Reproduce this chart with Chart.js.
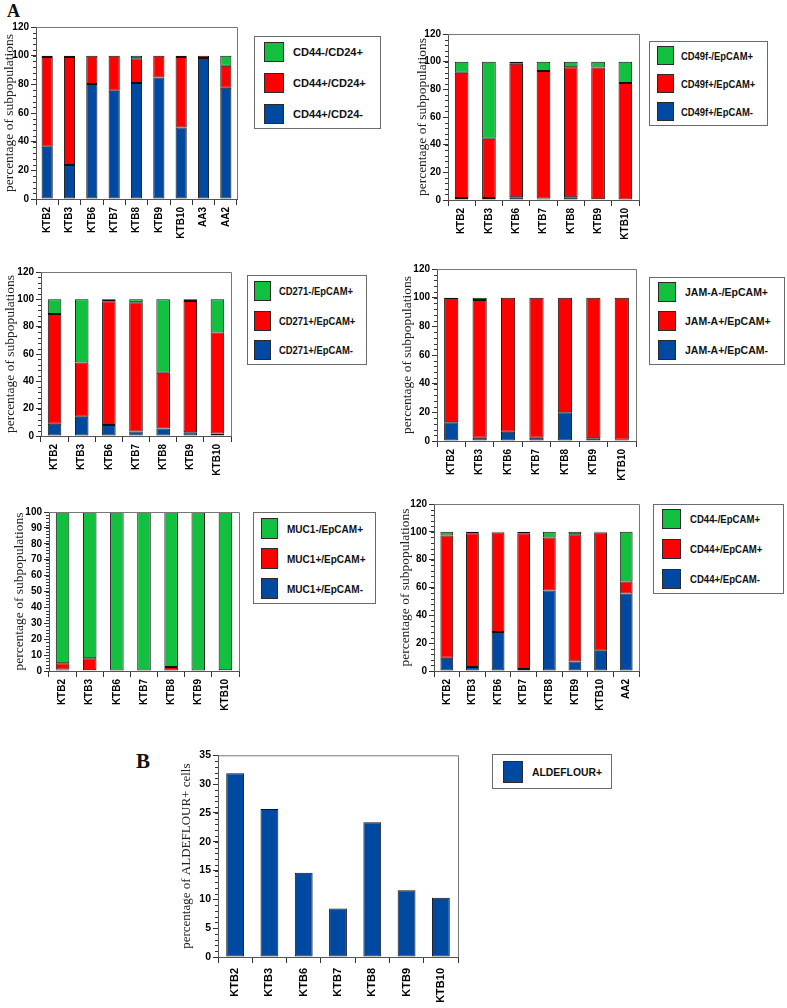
<!DOCTYPE html>
<html>
<head>
<meta charset="utf-8">
<script src="https://cdn.jsdelivr.net/npm/chart.js@4.4.1/dist/chart.umd.min.js"></script>
<style>
body { margin: 0; background: #fff; }
#page { position: relative; width: 787px; height: 1008px; overflow: hidden; background: #fff; }
canvas { position: absolute; }
.panel-letter { position: absolute; font: bold 18px "Liberation Serif", "Times New Roman", serif; line-height: 1; color: #111; }
.legend { position: absolute; border: 1px solid #6b6b6b; box-sizing: border-box; background: #fff; }
.sw { position: absolute; border: 1px solid #2a2a2a; box-sizing: border-box; }
.lt { position: absolute; font-family: "Liberation Sans", Arial, sans-serif; font-weight: bold; color: #111; white-space: nowrap; line-height: 1; transform-origin: 0 50%; }
</style>
</head>
<body>
<div id="page">
  <div class="panel-letter" style="left:7px;top:2px">A</div>
  <div class="panel-letter" style="left:136px;top:751px;font-size:21px">B</div>
</div>
<script>
// Categories
const ktbLines = ['KTB2', 'KTB3', 'KTB6', 'KTB7', 'KTB8', 'KTB9', 'KTB10'];
const cd24Lines = ['KTB2', 'KTB3', 'KTB6', 'KTB7', 'KTB8', 'KTB9', 'KTB10', 'AA3', 'AA2'];
const cd44Lines = ['KTB2', 'KTB3', 'KTB6', 'KTB7', 'KTB8', 'KTB9', 'KTB10', 'AA2'];

// CD44 / CD24
const cd24Names = ['CD44+/CD24-', 'CD44+/CD24+', 'CD44-/CD24+'];
const cd24Blue  = [36.5, 23.8, 80.2, 75.6, 81.0, 84.7, 49.8, 98.3, 77.6];
const cd24Red   = [62.5, 75.2, 19.8, 24.4, 17.2, 15.3, 49.2, 1.7, 15.4];
const cd24Green = [1.0, 1.0, 0, 0, 1.8, 0, 1.0, 0, 7.0];

// CD49f / EpCAM
const cd49fNames = ['CD49f+/EpCAM-', 'CD49f+/EpCAM+', 'CD49f-/EpCAM+'];
const cd49fBlue  = [1.5, 1.5, 2.0, 1.0, 2.0, 0.5, 0.3];
const cd49fRed   = [90.5, 42.8, 96.5, 92.2, 94.0, 95.3, 84.2];
const cd49fGreen = [8.0, 55.7, 1.5, 6.8, 4.0, 4.2, 15.5];

// CD271 / EpCAM
const cd271Names = ['CD271+/EpCAM-', 'CD271+/EpCAM+', 'CD271-/EpCAM+'];
const cd271Blue  = [9.0, 14.0, 8.0, 3.3, 5.5, 2.8, 1.8];
const cd271Red   = [80.3, 39.8, 90.6, 94.6, 40.8, 96.0, 73.9];
const cd271Green = [10.7, 46.2, 1.4, 2.1, 53.7, 1.2, 24.3];

// JAM-A / EpCAM
const jamNames = ['JAM-A+/EpCAM-', 'JAM-A+/EpCAM+', 'JAM-A-/EpCAM+'];
const jamBlue  = [13.0, 2.3, 6.5, 2.3, 20.0, 1.9, 0.9];
const jamRed   = [86.7, 96.0, 93.5, 97.7, 80.0, 98.1, 99.1];
const jamGreen = [0.3, 1.7, 0, 0, 0, 0, 0];

// MUC1 / EpCAM
const muc1Names = ['MUC1+/EpCAM-', 'MUC1+/EpCAM+', 'MUC1-/EpCAM+'];
const muc1Blue  = [1.0, 0.4, 0, 0, 0.3, 0, 0.3];
const muc1Red   = [3.8, 7.6, 0, 0, 2.2, 0, 0.2];
const muc1Green = [95.2, 92.0, 100, 100, 97.5, 100, 99.5];

// CD44 / EpCAM
const cd44Names = ['CD44+/EpCAM-', 'CD44+/EpCAM+', 'CD44-/EpCAM+'];
const cd44Blue  = [9.6, 2.9, 28.0, 1.4, 57.9, 6.9, 14.6, 55.7];
const cd44Red   = [87.7, 96.1, 71.5, 97.6, 38.0, 91.4, 84.9, 8.6];
const cd44Green = [2.7, 1.0, 0.5, 1.0, 4.1, 1.7, 0.5, 35.7];

// ALDEFLOUR
const aldeName = 'ALDEFLOUR+';
const aldeValues = [31.9, 25.7, 14.6, 8.4, 23.4, 11.6, 10.3];

const BLUE = '#0049a0';
const RED = '#ff0000';
const GREEN = '#12bf3e';
const SANS = '"Liberation Sans", Arial, sans-serif';
const SERIF = '"Liberation Serif", "Times New Roman", serif';

const page = document.getElementById('page');

// frame round the plot area + small ticks on the y axis
const axisExtras = {
    id: 'axisExtras',
    afterDraw(chart, args, opts) {
        const { ctx, chartArea: a, scales: { y } } = chart;
        ctx.save();
        ctx.strokeStyle = '#777';
        ctx.lineWidth = 1;
        ctx.beginPath();
        ctx.moveTo(a.left, a.top + 0.5);
        ctx.lineTo(a.right + 0.5, a.top + 0.5);
        ctx.lineTo(a.right + 0.5, a.bottom);
        ctx.stroke();
        if (opts.minorStep) {
            ctx.strokeStyle = '#333';
            ctx.beginPath();
            for (let v = y.min; v <= y.max + 1e-6; v += opts.minorStep) {
                const py = Math.round(y.getPixelForValue(v)) + 0.5;
                ctx.moveTo(a.left - 3, py);
                ctx.lineTo(a.left, py);
            }
            ctx.stroke();
        }
        ctx.restore();
    }
};

function addChart(p) {
    const padTop = 8, xH = 56, padRight = 6;
    const yW = Math.round(p.plot.l - p.titleCx + 4 + p.titleSize * 0.6);
    const canvas = document.createElement('canvas');
    canvas.width = yW + (p.plot.r - p.plot.l) + padRight;
    canvas.height = (p.plot.b - p.plot.t) + padTop + xH;
    canvas.style.left = (p.plot.l - yW) + 'px';
    canvas.style.top = (p.plot.t - padTop) + 'px';
    page.appendChild(canvas);

    new Chart(canvas, {
        type: 'bar',
        data: {
            labels: p.categories,
            datasets: p.series.map(s => ({
                label: s.label,
                data: s.data,
                backgroundColor: s.color,
                borderColor: '#111',
                borderWidth: 1,
                borderSkipped: false,
                barPercentage: p.barPct,
                categoryPercentage: 1
            }))
        },
        options: {
            responsive: false,
            animation: false,
            devicePixelRatio: 1,
            layout: { padding: { left: 0, top: padTop, right: padRight, bottom: 0 } },
            plugins: {
                legend: { display: false },
                tooltip: { enabled: false },
                axisExtras: { minorStep: p.minorStep }
            },
            scales: {
                x: {
                    stacked: true,
                    offset: true,
                    grid: { offset: true, drawOnChartArea: false, tickLength: 6, color: '#333' },
                    border: { color: '#555' },
                    ticks: {
                        autoSkip: false, maxRotation: 90, minRotation: 90, padding: p.xPad,
                        color: '#000', font: { family: SANS, weight: 'bold', size: p.xFont }
                    },
                    afterFit(s) { s.height = xH; }
                },
                y: {
                    stacked: true,
                    min: 0,
                    max: p.yMax,
                    ticks: {
                        stepSize: p.step, padding: 2, color: '#000',
                        font: { family: SANS, weight: 'bold', size: p.yFont }
                    },
                    grid: { drawOnChartArea: false, tickLength: 5, color: '#333' },
                    border: { color: '#555' },
                    title: {
                        display: true, text: p.yTitle, color: '#222',
                        font: { family: SERIF, size: p.titleSize },
                        padding: { top: 4, bottom: 4 }
                    },
                    afterFit(s) { s.width = yW; }
                }
            }
        },
        plugins: [axisExtras]
    });

    addLegend(p.legend, p.series.slice().reverse());
}

function addLegend(L, rows) {
    const box = document.createElement('div');
    box.className = 'legend';
    Object.assign(box.style, { left: L.x + 'px', top: L.y + 'px', width: L.w + 'px', height: L.h + 'px' });
    page.appendChild(box);
    const texts = rows.map((s, i) => {
        const top = L.sy + i * L.sp;
        const sw = document.createElement('div');
        sw.className = 'sw';
        Object.assign(sw.style, { left: L.sx + 'px', top: top + 'px', width: L.sw + 'px', height: L.sh + 'px', background: s.color });
        const t = document.createElement('span');
        t.className = 'lt';
        t.textContent = s.label;
        Object.assign(t.style, { left: L.tx + 'px', top: (top + L.sh / 2) + 'px', fontSize: '11px' });
        box.appendChild(sw);
        box.appendChild(t);
        return t;
    });
    // squeeze the text to the width (first row)
    const k = L.textW / texts[0].getBoundingClientRect().width;
    texts.forEach(t => { t.style.transform = `translateY(-50%) scaleX(${k})`; });
}

function threeSeries(names, blue, red, green) {
    return [
        { label: names[0], data: blue, color: BLUE },
        { label: names[1], data: red, color: RED },
        { label: names[2], data: green, color: GREEN }
    ];
}

const subTitle = 'percentage of subpopulations';
const common = { yMax: 120, step: 20, minorStep: 4, barPct: 0.5, xFont: 10, xPad: 2, yFont: 10, titleSize: 13.5, yTitle: subTitle };

addChart({ ...common, categories: cd24Lines, series: threeSeries(cd24Names, cd24Blue, cd24Red, cd24Green),
    plot: { l: 36, t: 27, r: 237, b: 199 }, titleCx: 9,
    legend: { x: 254, y: 36, w: 127, h: 93, sx: 9, sy: 5, sw: 20, sh: 20, sp: 31, tx: 38, textW: 70 } });

addChart({ ...common, categories: ktbLines, series: threeSeries(cd49fNames, cd49fBlue, cd49fRed, cd49fGreen),
    plot: { l: 448, t: 34, r: 639, b: 200 }, titleCx: 422,
    legend: { x: 649, y: 41, w: 119, h: 85, sx: 7, sy: 4, sw: 17, sh: 19, sp: 28, tx: 31, textW: 72 } });

addChart({ ...common, categories: ktbLines, series: threeSeries(cd271Names, cd271Blue, cd271Red, cd271Green),
    plot: { l: 41, t: 272, r: 231, b: 436 }, titleCx: 10.5,
    legend: { x: 247, y: 275, w: 120, h: 90, sx: 6, sy: 5, sw: 17, sh: 20, sp: 29.5, tx: 31, textW: 74 } });

addChart({ ...common, categories: ktbLines, series: threeSeries(jamNames, jamBlue, jamRed, jamGreen),
    plot: { l: 437, t: 269, r: 636, b: 441 }, titleCx: 407,
    legend: { x: 649, y: 277, w: 136, h: 88, sx: 8, sy: 4, sw: 18, sh: 20, sp: 29, tx: 35, textW: 83 } });

addChart({ ...common, categories: ktbLines, series: threeSeries(muc1Names, muc1Blue, muc1Red, muc1Green),
    plot: { l: 49, t: 512, r: 239, b: 671 }, titleCx: 19.5, yMax: 100, step: 10, minorStep: 2,
    legend: { x: 253, y: 512, w: 123, h: 92, sx: 7, sy: 5, sw: 17, sh: 21, sp: 30, tx: 33, textW: 76 } });

addChart({ ...common, categories: cd44Lines, series: threeSeries(cd44Names, cd44Blue, cd44Red, cd44Green),
    plot: { l: 434, t: 504, r: 639, b: 671 }, titleCx: 405.5,
    legend: { x: 653, y: 504, w: 131, h: 90, sx: 8, sy: 4, sw: 19, sh: 20, sp: 30, tx: 36, textW: 70 } });

addChart({ ...common, categories: ktbLines, series: [{ label: aldeName, data: aldeValues, color: BLUE }],
    plot: { l: 218, t: 755, r: 458, b: 957 }, titleCx: 187, yMax: 35, step: 5, minorStep: 1,
    barPct: 0.52, xFont: 11, xPad: 5, yFont: 10.5, titleSize: 13, yTitle: 'percentage of ALDEFLOUR+ cells',
    legend: { x: 492, y: 754, w: 120, h: 35, sx: 10, sy: 6, sw: 20, sh: 22, sp: 30, tx: 39, textW: 70 } });
</script>
</body>
</html>
